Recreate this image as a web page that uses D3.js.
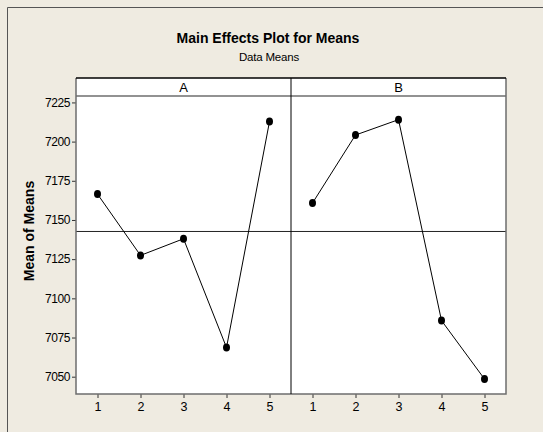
<!DOCTYPE html>
<html>
<head>
<meta charset="utf-8">
<script src="https://cdn.jsdelivr.net/npm/d3@7"></script>
<style>
  body { margin: 0; background: #efebe1; }
  text { font-family: Arial, 'Liberation Sans', sans-serif; fill: #000; }
</style>
</head>
<body>
<div id="chart"></div>
<script>
// factors and levels
const factors = ['A', 'B'];
const levels = [1, 2, 3, 4, 5];
// means
const meansA = [7166.5, 7127.4, 7138.0, 7068.6, 7212.8];
const meansB = [7160.8, 7204.2, 7214.0, 7085.8, 7048.5];
const yTicks = [7050, 7075, 7100, 7125, 7150, 7175, 7200, 7225];

const W = 543;
const H = 432;
const plot = {left: 76, right: 506, stripTop: 78, top: 96, bottom: 394};

const svg = d3.select('#chart')
    .append('svg')
    .attr('width', W)
    .attr('height', H);

svg.append('rect')
    .attr('width', W).attr('height', H)
    .attr('fill', '#efebe1');

// outer frame (top + left edges visible)
svg.append('path')
    .attr('d', `M7.5,${H}V7.5H${W}`)
    .attr('fill', 'none')
    .attr('stroke', '#555')
    .attr('stroke-width', 1);

// titles
svg.append('text')
    .attr('x', 268).attr('y', 43)
    .attr('text-anchor', 'middle')
    .style('font-size', '14px')
    .style('font-weight', 'bold')
    .text('Main Effects Plot for Means');
svg.append('text')
    .attr('x', 269).attr('y', 61)
    .attr('text-anchor', 'middle')
    .style('font-size', '11.5px')
    .style('letter-spacing', '-0.2px')
    .text('Data Means');

const y = d3.scaleLinear()
    .domain([7038.96, 7229.1])
    .range([plot.bottom, plot.top]);

const panelW = (plot.right - plot.left) / factors.length;
const series = [meansA, meansB];
const grandMean = d3.mean(meansA.concat(meansB));

factors.forEach((f, i) => {
  const x0 = plot.left + i * panelW;
  const x = d3.scalePoint()
      .domain(levels)
      .range([x0 + 21.5, x0 + panelW - 21.5]);

  // panel background
  svg.append('rect')
      .attr('x', x0).attr('y', plot.stripTop)
      .attr('width', panelW).attr('height', plot.bottom - plot.stripTop)
      .attr('fill', '#fff');

  // strip label
  svg.append('text')
      .attr('x', x0 + panelW / 2).attr('y', 92)
      .attr('text-anchor', 'middle')
      .style('font-size', '13px')
      .text(f);

  // x axis
  const xAxis = svg.append('g')
      .attr('transform', `translate(0,${plot.bottom})`)
      .call(d3.axisBottom(x).tickSize(4).tickPadding(4));
  xAxis.select('.domain').remove();
  xAxis.selectAll('line').attr('stroke', '#333');
  xAxis.selectAll('text')
      .style('font-size', '12.5px')
      .style('font-family', 'Arial, "Liberation Sans", sans-serif');

  // reference line at grand mean
  svg.append('line')
      .attr('x1', x0).attr('x2', x0 + panelW)
      .attr('y1', y(grandMean)).attr('y2', y(grandMean))
      .attr('stroke', '#222').attr('stroke-width', 1);

  const pts = levels.map((l, k) => ({level: l, value: series[i][k]}));

  svg.append('path')
      .datum(pts)
      .attr('fill', 'none')
      .attr('stroke', '#000')
      .attr('stroke-width', 1)
      .attr('d', d3.line()
          .x((d) => x(d.level))
          .y((d) => y(d.value)));

  svg.selectAll(null)
      .data(pts)
      .enter()
      .append('ellipse')
      .attr('cx', (d) => x(d.level))
      .attr('cy', (d) => y(d.value))
      .attr('rx', 3.5).attr('ry', 4)
      .attr('fill', '#000');
});

// y axis
const yAxis = svg.append('g')
    .attr('transform', `translate(${plot.left},0)`)
    .call(d3.axisLeft(y).tickValues(yTicks).tickFormat(d3.format('d'))
        .tickSize(4).tickPadding(2));
yAxis.select('.domain').remove();
yAxis.selectAll('line').attr('stroke', '#333');
yAxis.selectAll('text')
    .style('font-size', '12px')
    .style('letter-spacing', '-0.4px')
    .style('font-family', 'Arial, "Liberation Sans", sans-serif');

svg.append('text')
    .attr('transform', `translate(34,231) rotate(-90)`)
    .attr('text-anchor', 'middle')
    .style('font-size', '14px')
    .style('font-weight', 'bold')
    .text('Mean of Means');

// frame lines
const midX = plot.left + panelW;
svg.append('path')
    .attr('d', `M${plot.left},${plot.stripTop}V${plot.bottom}H${plot.right}V${plot.stripTop}`)
    .attr('fill', 'none').attr('stroke', '#6e6e6e').attr('stroke-width', 1.5);
svg.append('line')
    .attr('x1', plot.left).attr('x2', plot.right)
    .attr('y1', plot.top).attr('y2', plot.top)
    .attr('stroke', '#6e6e6e').attr('stroke-width', 1.5);
svg.append('line')
    .attr('x1', plot.left).attr('x2', plot.right)
    .attr('y1', plot.stripTop).attr('y2', plot.stripTop)
    .attr('stroke', '#000').attr('stroke-width', 1.5);
svg.append('line')
    .attr('x1', midX).attr('x2', midX)
    .attr('y1', plot.stripTop).attr('y2', plot.bottom)
    .attr('stroke', '#000').attr('stroke-width', 1);
</script>
</body>
</html>
